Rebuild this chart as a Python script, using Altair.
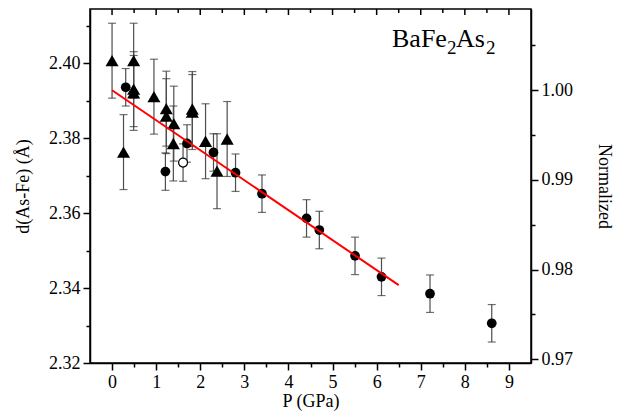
import altair as alt
import pandas as pd

# ---- data ----
tri_p = [0.00, 0.26, 0.49, 0.49, 0.49, 0.95, 1.23, 1.23, 1.40, 1.39, 1.82, 1.82, 2.12, 2.38, 2.61]
tri_d = [2.4007, 2.3763, 2.4007, 2.3931, 2.3921, 2.3911, 2.3879, 2.3859, 2.3839, 2.3786,
         2.3878, 2.3870, 2.3792, 2.3712, 2.3798]
tri_err = [0.010, 0.010, 0.010, 0.010, 0.010, 0.010, 0.010, 0.010, 0.010, 0.010,
           0.010, 0.010, 0.010, 0.010, 0.010]

circ_p = [0.31, 1.21, 1.70, 2.30, 2.80, 3.40, 4.41, 4.70, 5.51, 6.11, 7.21, 8.61]
circ_d = [2.3936, 2.3711, 2.3786, 2.3762, 2.3708, 2.3652, 2.3586, 2.3555, 2.3486, 2.3430, 2.3385, 2.3306]
circ_err = [0.005, 0.005, 0.005, 0.005, 0.005, 0.005, 0.005, 0.005, 0.005, 0.005, 0.005, 0.005]

open_p = [1.61]
open_d = [2.3735]
open_err = [0.005]

fit_p = [0.0, 6.5]
fit_d = [2.3928, 2.3408]

d0 = 2.3928  # normalisation reference

x_ticks = [0, 0.5, 1, 1.5, 2, 2.5, 3, 3.5, 4, 4.5, 5, 5.5, 6, 6.5, 7, 7.5, 8, 8.5, 9]
x_major_top = [0, 1, 2, 3, 4, 5, 6, 7, 8, 9]
x_minor_top = [0.5, 1.5, 2.5, 3.5, 4.5, 5.5, 6.5, 7.5, 8.5]
yl_ticks = [2.32, 2.33, 2.34, 2.35, 2.36, 2.37, 2.38, 2.39, 2.40, 2.41]
yr_ticks = [0.97, 0.975, 0.98, 0.985, 0.99, 0.995, 1.00, 1.005]
label_parts = ["BaFe", "2", "As", "2"]

x_dom = [-0.5, 9.5]
yl_dom = [2.32, 2.4145]
yr_dom = [yl_dom[0] / d0, yl_dom[1] / d0]

W, H = 441, 354
FONT = "Liberation Serif"

# ---- frames ----
def pts(p, d, e, kind):
    return pd.DataFrame({"P": p, "d": d, "lo": [a - b for a, b in zip(d, e)],
                         "hi": [a + b for a, b in zip(d, e)], "kind": kind})

df_tri = pts(tri_p, tri_d, tri_err, "tri")
df_circ = pts(circ_p, circ_d, circ_err, "circ")
df_open = pts(open_p, open_d, open_err, "open")
df_all = pd.concat([df_tri, df_circ, df_open], ignore_index=True)
df_caps = pd.concat([
    df_all[["P", "lo"]].rename(columns={"lo": "v"}),
    df_all[["P", "hi"]].rename(columns={"hi": "v"}),
], ignore_index=True)
df_fit = pd.DataFrame({"P": fit_p, "d": fit_d})
df_norm = pd.DataFrame({"P": fit_p, "N": [v / d0 for v in fit_d]})

xs = alt.Scale(domain=x_dom, nice=False, zero=False)
ys = alt.Scale(domain=yl_dom, nice=False, zero=False)
yrs = alt.Scale(domain=yr_dom, nice=False, zero=False)

common = dict(labelFont=FONT, titleFont=FONT, labelFontSize=18, titleFontSize=18,
              titleFontWeight="normal", labelColor="black", titleColor="black",
              domainColor="black", tickColor="black", domainWidth=1.5, tickWidth=1.5,
              labelOverlap=False, grid=False)

x_axis = alt.Axis(
    values=x_ticks, title="P (GPa)",
    labelExpr="datum.value % 1 === 0 ? format(datum.value, 'd') : ''",
    tickSize={"condition": {"test": "datum.value % 1 === 0", "value": 7}, "value": 4},
    labelPadding=3, titlePadding=1, **common,
)
yl_axis = alt.Axis(
    values=yl_ticks, title="d(As-Fe) (Å)",
    labelExpr="abs(datum.value*50 - round(datum.value*50)) < 0.01 ? format(datum.value, '.2f') : ''",
    tickSize={"condition": {"test": "abs(datum.value*50 - round(datum.value*50)) < 0.01", "value": 7}, "value": 4},
    labelPadding=3, titlePadding=16, **common,
)
yr_axis = alt.Axis(
    values=yr_ticks, title="Normalized", orient="right",
    labelExpr="abs(datum.value*100 - round(datum.value*100)) < 0.01 ? format(datum.value, '.2f') : ''",
    tickSize={"condition": {"test": "abs(datum.value*100 - round(datum.value*100)) < 0.01", "value": 7}, "value": 4},
    labelPadding=3, titlePadding=22, **common,
)

X = lambda: alt.X("P:Q", scale=xs, axis=x_axis)
Yl = lambda f: alt.Y(f, scale=ys, axis=yl_axis)

bars = alt.Chart(df_all).mark_rule(color="#4d4d4d", strokeWidth=1.2).encode(
    x=X(), y=Yl("lo:Q"), y2="hi:Q",
)
caps = alt.Chart(df_caps).mark_tick(orient="horizontal", size=8, thickness=1.2, color="#333333").encode(
    x=X(), y=Yl("v:Q"),
)
tris = alt.Chart(df_tri).mark_point(shape="triangle-up", filled=True, color="black", size=170, opacity=1).encode(
    x=X(), y=Yl("d:Q"),
)
circs = alt.Chart(df_circ).mark_point(shape="circle", filled=True, color="black", size=95, opacity=1).encode(
    x=X(), y=Yl("d:Q"),
)
opens = alt.Chart(df_open).mark_point(shape="circle", filled=True, fill="white", stroke="black",
                                      strokeWidth=1.2, size=80, opacity=1).encode(
    x=X(), y=Yl("d:Q"),
)
fit = alt.Chart(df_fit).mark_line(color="#ff0000", strokeWidth=2).encode(
    x=X(), y=Yl("d:Q"),
)

top_major = alt.Chart(pd.DataFrame({"P": x_major_top})).mark_rule(color="black", strokeWidth=1.5).encode(
    x=X(), y=alt.value(0), y2=alt.value(6))
top_minor = alt.Chart(pd.DataFrame({"P": x_minor_top})).mark_rule(color="black", strokeWidth=1.5).encode(
    x=X(), y=alt.value(0), y2=alt.value(4))

def txt(s, x, y, size):
    return alt.Chart(pd.DataFrame({"t": [s]})).mark_text(
        font=FONT, fontSize=size, align="left", baseline="alphabetic", color="black").encode(
        x=alt.value(x), y=alt.value(y), text="t:N")

label = alt.layer(
    txt(label_parts[0], 302, 38, 26),
    txt(label_parts[1], 357, 45, 19),
    txt(label_parts[2], 366, 38, 26),
    txt(label_parts[3], 396, 45, 19),
)

left = alt.layer(bars, caps, tris, circs, opens, fit, top_major, top_minor, label)
right = alt.Chart(df_norm).mark_point(opacity=0).encode(
    x=X(),
    y=alt.Y("N:Q", scale=yrs, axis=yr_axis),
)

chart = alt.layer(left, right).resolve_scale(y="independent").properties(
    width=W, height=H,
    padding={"left": 82, "top": 1, "right": 84, "bottom": 50},
    autosize=alt.AutoSizeParams(type="none"),
).configure_view(stroke="black", strokeWidth=1.5)

chart.save("out.html", embed_options={"renderer": "svg", "actions": False})
